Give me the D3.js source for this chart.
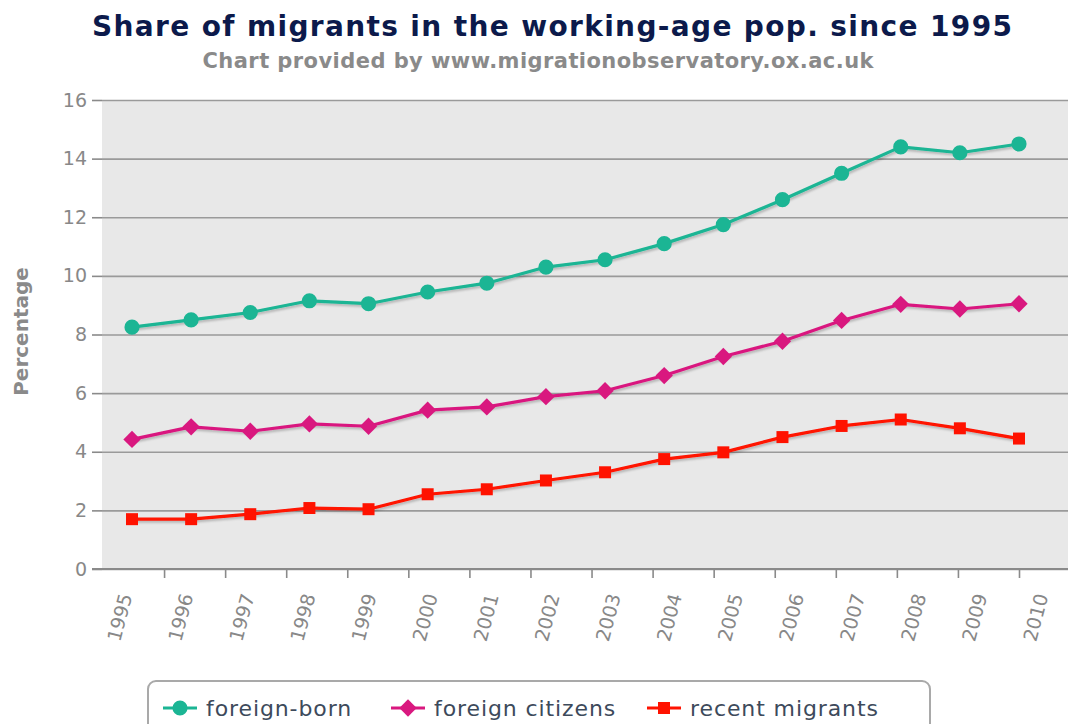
<!DOCTYPE html>
<html>
<head>
<meta charset="utf-8">
<script src="https://cdnjs.cloudflare.com/ajax/libs/d3/7.8.5/d3.min.js"></script>
<style>
  body { margin: 0; background: #fff; }
  svg { display: block; font-family: "DejaVu Sans", Verdana, sans-serif; }
</style>
</head>
<body>
<div id="chart"></div>
<script>
(function(){
    "use strict";

    var years = [1995, 1996, 1997, 1998, 1999, 2000, 2001, 2002, 2003, 2004, 2005, 2006, 2007, 2008, 2009, 2010];
    var foreignBorn = [8.25, 8.5, 8.75, 9.15, 9.05, 9.45, 9.75, 10.3, 10.55, 11.1, 11.75, 12.6, 13.5, 14.4, 14.2, 14.5];
    var foreignCitizens = [4.42, 4.85, 4.7, 4.95, 4.87, 5.42, 5.53, 5.88, 6.08, 6.6, 7.25, 7.77, 8.48, 9.03, 8.87, 9.05];
    var recentMigrants = [1.7, 1.7, 1.87, 2.08, 2.04, 2.55, 2.72, 3.02, 3.3, 3.75, 3.98, 4.5, 4.88, 5.1, 4.8, 4.45];
    var yTicks = [0, 2, 4, 6, 8, 10, 12, 14, 16];
    var seriesNames = ["foreign-born", "foreign citizens", "recent migrants"];
    var seriesColors = ["#1bb594", "#d9187f", "#ff1200"];
    var seriesSymbols = ["circle", "diamond", "square"];

    var width = 1068, height = 724;
    var margin = { top: 100, right: 0, bottom: 155, left: 102 };
    var plotW = width - margin.left - margin.right;
    var plotH = height - margin.top - margin.bottom;

    var svg = d3.select("#chart").append("svg")
        .attr("width", width)
        .attr("height", height);

    var defs = svg.append("defs");
    var shadow = defs.append("filter").attr("id", "shadow")
        .attr("x", "-5%").attr("y", "-20%").attr("width", "110%").attr("height", "140%");
    shadow.append("feDropShadow")
        .attr("dx", 1).attr("dy", 2).attr("stdDeviation", 1)
        .attr("flood-color", "#000").attr("flood-opacity", 0.22);

    // titles
    svg.append("text")
        .attr("x", 552).attr("y", 36)
        .attr("text-anchor", "middle")
        .attr("textLength", 920)
        .attr("lengthAdjust", "spacing")
        .style("font-weight", "bold")
        .style("font-size", "28px")
        .style("fill", "#0c1a4b")
        .text("Share of migrants in the working-age pop. since 1995");

    svg.append("text")
        .attr("x", 538).attr("y", 68)
        .attr("text-anchor", "middle")
        .attr("textLength", 671)
        .attr("lengthAdjust", "spacing")
        .style("font-weight", "bold")
        .style("font-size", "21px")
        .style("fill", "#8a8a8a")
        .text("Chart provided by www.migrationobservatory.ox.ac.uk");

    var g = svg.append("g").attr("transform", "translate(" + margin.left + "," + margin.top + ")");

    var y = d3.scaleLinear().domain([0, 16]).range([plotH, 0]);
    var x = d3.scalePoint().domain(years).range([30, 917]);
    var xTick = d3.scalePoint().domain(years).range([1, 917]);

    g.append("rect")
        .attr("width", plotW).attr("height", plotH)
        .attr("fill", "#e8e8e8");

    // gridlines
    g.append("g")
        .attr("class", "grid")
        .call(d3.axisLeft(y).tickValues(yTicks).tickSize(-plotW).tickFormat(""))
        .call(function(sel) {
            sel.select(".domain").remove();
            sel.selectAll("line").attr("stroke", "#9a9a9a").attr("stroke-width", 1.6);
        });

    // y axis ticks and labels
    g.append("g")
        .call(d3.axisLeft(y).tickValues(yTicks).tickSize(10).tickPadding(5))
        .call(function(sel) {
            sel.select(".domain").remove();
            sel.selectAll("line").attr("stroke", "#8a8a8a").attr("stroke-width", 1.6);
            sel.selectAll("text")
                .attr("fill", "#888")
                .style("font-size", "19px")
                .style("font-family", "'DejaVu Sans', sans-serif");
        });

    svg.append("text")
        .attr("transform", "translate(28," + (margin.top + plotH / 2 - 3) + ") rotate(-90)")
        .attr("text-anchor", "middle")
        .style("font-weight", "bold")
        .style("font-size", "20px")
        .style("fill", "#8a8a8a")
        .text("Percentage");

    // x axis
    g.append("g")
        .attr("transform", "translate(0," + plotH + ")")
        .call(d3.axisBottom(xTick).tickSize(9).tickFormat(""))
        .call(function(sel) {
            sel.select(".domain").remove();
            sel.selectAll("line").attr("stroke", "#8a8a8a").attr("stroke-width", 1.6);
            sel.selectAll(".tick").filter(function(d, i) { return i === 0; }).select("line").remove();
        });

    g.append("line")
        .attr("x1", -10).attr("x2", plotW)
        .attr("y1", plotH).attr("y2", plotH)
        .attr("stroke", "#8a8a8a").attr("stroke-width", 2);

    g.append("g").selectAll("text")
        .data(years)
        .enter()
        .append("text")
        .attr("transform", function(d) {
            return "translate(" + (xTick(d) + 23) + "," + (plotH + 25) + ") rotate(-75)";
        })
        .attr("text-anchor", "end")
        .attr("dy", "0.35em")
        .style("font-size", "19px")
        .style("fill", "#888")
        .text(function(d) { return d; });

    // series
    var series = [foreignBorn, foreignCitizens, recentMigrants];
    var symbolTypes = { circle: d3.symbolCircle, diamond: d3.symbolSquare, square: d3.symbolSquare };
    var symbolSizes = { circle: 180, diamond: 150, square: 144 };
    var symbolRotate = { circle: 0, diamond: 45, square: 0 };

    var line = d3.line()
        .x(function(d, i) { return x(years[i]); })
        .y(function(d) { return y(d); });

    series.forEach(function(values, s) {
        var sg = g.append("g").attr("class", "series");
        sg.append("path")
            .datum(values)
            .attr("d", line)
            .attr("fill", "none")
            .attr("stroke", seriesColors[s])
            .attr("stroke-width", 3.2)
            .attr("stroke-linejoin", "round")
            .attr("filter", "url(#shadow)");

        var type = seriesSymbols[s];
        sg.selectAll("path.marker")
            .data(values)
            .enter()
            .append("path")
            .attr("class", "marker")
            .attr("d", d3.symbol().type(symbolTypes[type]).size(symbolSizes[type]))
            .attr("transform", function(d, i) {
                return "translate(" + x(years[i]) + "," + y(d) + ") rotate(" + symbolRotate[type] + ")";
            })
            .attr("fill", seriesColors[s]);
    });

    // legend
    var legend = svg.append("g");
    legend.append("rect")
        .attr("x", 148).attr("y", 681)
        .attr("width", 782).attr("height", 70)
        .attr("rx", 8)
        .attr("fill", "#fff")
        .attr("stroke", "#a9a9a9")
        .attr("stroke-width", 2);

    var legendX = [163, 391, 647];
    seriesNames.forEach(function(name, s) {
        var item = legend.append("g").attr("transform", "translate(" + legendX[s] + ",708)");
        item.append("line")
            .attr("x1", 0).attr("x2", 34)
            .attr("stroke", seriesColors[s]).attr("stroke-width", 3.2);
        var type = seriesSymbols[s];
        item.append("path")
            .attr("d", d3.symbol().type(symbolTypes[type]).size(symbolSizes[type]))
            .attr("transform", "translate(17,0) rotate(" + symbolRotate[type] + ")")
            .attr("fill", seriesColors[s]);
        item.append("text")
            .attr("x", 43).attr("y", 8)
            .style("font-size", "22px")
            .style("letter-spacing", "0.9px")
            .style("fill", "#3d4a5b")
            .text(name);
    });
})();
</script>
</body>
</html>
